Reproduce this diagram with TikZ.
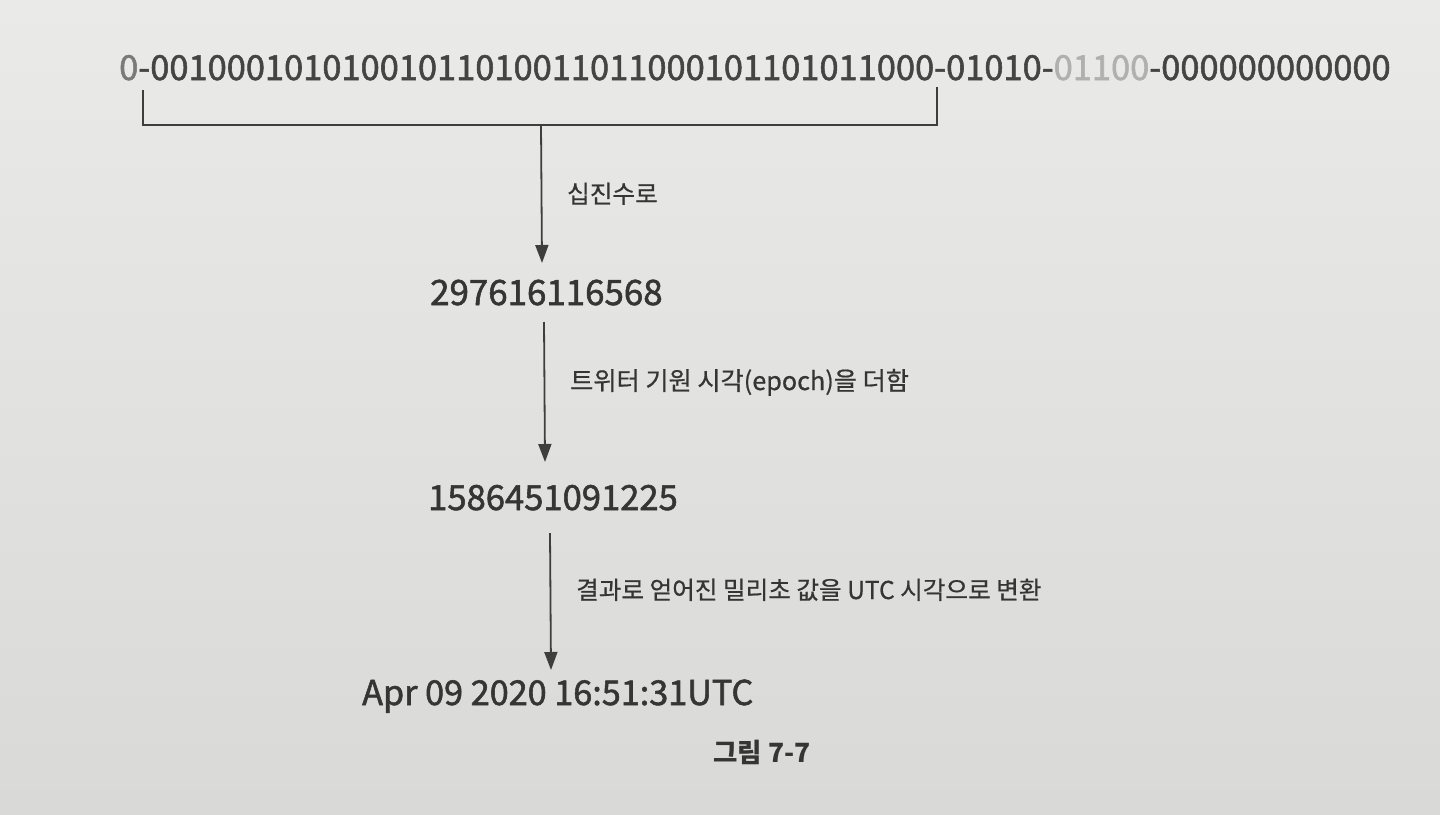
\documentclass[tikz,border=0pt]{standalone}
\usepackage{fontspec}
\setmainfont{Noto Sans CJK KR}
\newfontfamily\numfont[FakeBold=1.6]{Noto Sans CJK KR}
\newfontfamily\lblfont[FakeBold=0.6]{Noto Sans CJK KR}
\usetikzlibrary{arrows.meta}
\definecolor{ink}{HTML}{353535}
\definecolor{binink}{HTML}{444444}
\definecolor{lineink}{HTML}{3E3E3E}
\definecolor{faint}{HTML}{B0B0AE}
\definecolor{mid}{HTML}{7A7A7A}
\definecolor{pagetop}{HTML}{EAEAE8}
\definecolor{pagebot}{HTML}{D9D9D7}
\tikzset{
  bignum/.style={inner sep=0pt, anchor=base west, text=ink, font=\numfont\fontsize{34.3}{40}\selectfont},
  lbl/.style={inner sep=0pt, anchor=base west, text=ink, font=\lblfont\fontsize{24.6}{28}\selectfont},
  captxt/.style={inner sep=0pt, anchor=base west, text=ink, font=\fontsize{26.5}{30}\selectfont\bfseries},
  conn/.style={draw=lineink, line width=1.8pt},
  arr/.style={conn, -{Triangle[length=18pt,width=13pt]}},
}
\begin{document}
\begin{tikzpicture}[x=1pt,y=-1pt]
\shade[top color=pagetop, bottom color=pagebot] (0,0) rectangle (1440,814);
\useasboundingbox (0,0) rectangle (1440,814);

\node[bignum, text=binink, font=\numfont\fontsize{34.45}{40}\selectfont] (bin) at (119,80) {\textcolor{mid}{0}-00100010101001011010011011000101101011000-01010-\textcolor{faint}{01100}-000000000000};

\coordinate (bl) at (143,90);
\coordinate (br) at (937,87);
\coordinate (bbl) at (143,125);
\coordinate (bbr) at (937,125);
\coordinate (stem) at (541,125);

\node[bignum, font=\numfont\fontsize{34.9}{40}\selectfont] (n1) at (430,305) {297616116568};
\node[bignum, font=\numfont\fontsize{34.6}{40}\selectfont] (n2) at (428,510) {1586451091225};
\node[bignum, font=\numfont\fontsize{34.2}{40}\selectfont] (n3) at (362,705) {Apr 09 2020 16:51:31UTC};

\node[lbl] (l1) at (567,203) {십진수로};
\node[lbl, font=\lblfont\fontsize{25.2}{28}\selectfont] (l2) at (570,390) {트위터 기원 시각(epoch)을 더함};
\node[lbl] (l3) at (576,599) {결과로 얻어진 밀리초 값을 UTC 시각으로 변환};
\node[captxt] (c) at (713,762) {그림 7-7};

\coordinate (a2s) at (544,322);
\coordinate (a2e) at (545,462);
\coordinate (a3s) at (550,533);
\coordinate (a3e) at (551,670);
\coordinate (a1e) at (542,263);

\draw[conn] (bl) -- (bbl) -- (bbr) -- (br);
\draw[arr] (stem) -- (a1e);
\draw[arr] (a2s) -- (a2e);
\draw[arr] (a3s) -- (a3e);
\end{tikzpicture}
\end{document}
